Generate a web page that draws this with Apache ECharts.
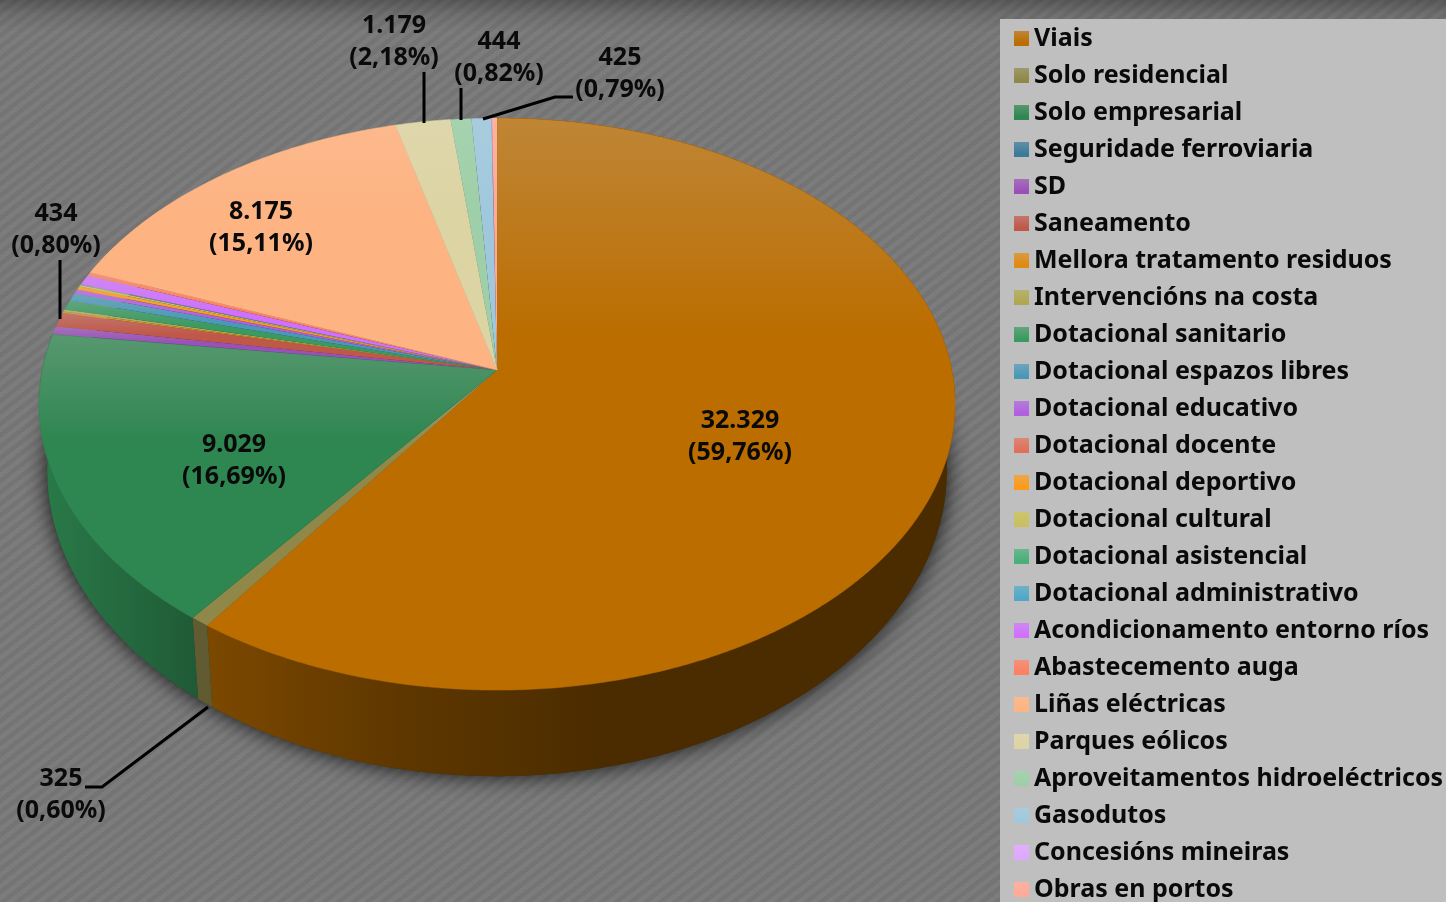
<!DOCTYPE html>
<html>
<head>
<meta charset="utf-8">
<style>
html,body{margin:0;padding:0;width:1446px;height:902px;overflow:hidden;background:#777}
#bg{position:absolute;left:0;top:0;width:1446px;height:902px;
background:
 linear-gradient(to bottom,rgba(0,0,0,.28) 0,rgba(0,0,0,.1) 14px,rgba(0,0,0,0) 32px),
 repeating-linear-gradient(-38deg,#7c7c7c 0,#7c7c7c 4.5px,#747474 4.5px,#747474 9px);}
#c{position:absolute;left:0;top:0;width:1446px;height:902px}
</style>
<script src="https://cdn.jsdelivr.net/npm/echarts@6/dist/echarts.min.js"></script>
</head>
<body>
<div id="bg"></div>
<div id="c"></div>
<script>
const categories = ['Viais','Solo residencial','Solo empresarial','Seguridade ferroviaria','SD','Saneamento','Mellora tratamento residuos','Intervencións na costa','Dotacional sanitario','Dotacional espazos libres','Dotacional educativo','Dotacional docente','Dotacional deportivo','Dotacional cultural','Dotacional asistencial','Dotacional administrativo','Acondicionamento entorno ríos','Abastecemento auga','Liñas eléctricas','Parques eólicos','Aproveitamentos hidroeléctricos','Gasodutos','Concesións mineiras','Obras en portos'];
const values = [32329,325,9029,10,240,434,50,70,300,230,130,10,100,50,15,15,300,120,8175,1179,444,425,10,108];
const colors = ['#bb6d00','#8f8848','#2e8650','#3a7a9a','#9a50b8','#c0584a','#e08a10','#b0a850','#3a9a60','#4a98b8','#b060e0','#e0705a','#fc9a1a','#c8c060','#48b078','#50a8c8','#d070ff','#ff8060','#fdb382','#ddd4a4','#9ecfa8','#a0c8dc','#dfa8ff','#ffaa98'];

// where each printed label and its leader line sit: [label x, first-line y, leader points]
const labelLayout = {
  'Viais': [740,421,null],
  'Solo empresarial': [234,445,null],
  'Liñas eléctricas': [261,212,null],
  'Parques eólicos': [394,26,[[424,72],[424,123]]],
  'Aproveitamentos hidroeléctricos': [499,42,[[461,88],[461,120]]],
  'Gasodutos': [620,58,[[573,97],[555,97],[483,119]]],
  'Saneamento': [56,214,[[60,260],[60,319]]],
  'Solo residencial': [61,779,[[85,787],[102,787],[208,707]]]
};

const total = values.reduce((a,b)=>a+b,0);
const starts = []; values.reduce((a,b,i)=>{starts[i]=a;return a+b;},0);

const APEX_X=497, APEX_Y=370, RX=454.8, RY=282, K=0.119;
const SX=0.982, SY=1.069, DROP=64;
const FONT='Noto Sans, sans-serif';
function rimTop(t){const u=Math.sin(t),v=-Math.cos(t),w=1-K*v;return [APEX_X+RX*u/w,APEX_Y+RY*v/w];}
function rimBottom(t){const p=rimTop(t);return [APEX_X+SX*(p[0]-APEX_X),APEX_Y+DROP+SY*(p[1]-APEX_Y)];}
function arc(fn,a,b){const n=Math.max(2,Math.ceil((b-a)/(Math.PI/360)));const r=[];for(let i=0;i<=n;i++)r.push(fn(a+(b-a)*i/n));return r;}
function rgb(hex){const n=parseInt(hex.slice(1),16);return [n>>16,(n>>8)&255,n&255];}
function mix(hex,f,to){return 'rgb('+rgb(hex).map(x=>Math.round(x+(to-x)*f)).join(',')+')';}
function gloss(hex){const c=rgb(hex);const lum=.3*c[0]+.59*c[1]+.11*c[2];return lum>175?mix(hex,.1,240):mix(hex,.27,200);}
function faceFill(c,end){return new echarts.graphic.LinearGradient(0,0,0,1,[{offset:0,color:gloss(c)},{offset:end,color:c},{offset:1,color:c}]);}
const wallShade=[[46,.1],[200,.33],[400,.5],[600,.6],[950,.6]];
function wallFill(c){return new echarts.graphic.LinearGradient(46,0,950,0,wallShade.map(s=>({offset:(s[0]-46)/904,color:mix(c,s[1],0)})),true);}
function fmt(n){return n.toLocaleString('de-DE');}
function pct(n){return '('+(n/total*100).toFixed(2).replace('.',',')+'%)';}

function renderSlice(idx){
  return function(params,api){
    const a=api.value(0)/total*Math.PI*2, b=(api.value(0)+api.value(1))/total*Math.PI*2, v=api.value(1);
    const c=colors[idx], rim=arc(rimTop,a,b);
    const kids=[
      {type:'polygon',z2:1,shape:{points:rim.concat(arc(rimBottom,a,b).reverse())},style:{fill:wallFill(c)}},
      {type:'polygon',z2:10,shape:{points:[[APEX_X,APEX_Y]].concat(rim)},style:{fill:faceFill(c,0.38),stroke:c,lineWidth:v>1000?0.5:0}}
    ];
    const L=labelLayout[categories[idx]];
    if(L){
      const font='bold 25px '+FONT;
      kids.push({type:'text',z2:30,style:{text:fmt(v),x:L[0],y:L[1],align:'center',verticalAlign:'middle',font:font,fill:'#0a0a0a'}});
      kids.push({type:'text',z2:30,style:{text:pct(v),x:L[0],y:L[1]+31.5,align:'center',verticalAlign:'middle',font:font,fill:'#0a0a0a'}});
      if(L[2])kids.push({type:'polyline',z2:25,shape:{points:L[2]},style:{stroke:'#000',lineWidth:3,fill:'none'}});
    }
    return {type:'group',children:kids};
  };
}
const sliceSeries=categories.map((name,i)=>({
  type:'custom',name:name,coordinateSystem:'none',silent:true,animation:false,
  itemStyle:{color:colors[i]},data:[[starts[i],values[i]]],renderItem:renderSlice(i)
}));
const shadowSeries={type:'custom',name:'sombra',coordinateSystem:'none',silent:true,animation:false,data:[[0]],
  renderItem:function(){return {type:'polygon',z2:0,shape:{points:arc(rimBottom,0,Math.PI*2)},
    style:{fill:'#333',shadowBlur:22,shadowColor:'rgba(0,0,0,.85)'}};}};

const chart=echarts.init(document.getElementById('c'),null,{renderer:'canvas'});
chart.setOption({
  backgroundColor:'transparent',animation:false,
  legend:{
    orient:'vertical',left:1000,top:19,height:1000,
    padding:[7,3,16,14],backgroundColor:'#bfbfbf',borderRadius:0,
    itemWidth:15,itemHeight:15,itemGap:12,selectedMode:false,
    textStyle:{fontFamily:FONT,fontWeight:'bold',fontSize:25,color:'#0a0a0a',lineHeight:20},
    data:categories.map((name,i)=>({name:name,icon:'rect',itemStyle:{color:faceFill(colors[i],0.8)}}))
  },
  series:[shadowSeries].concat(sliceSeries)
});
</script>
</body>
</html>
